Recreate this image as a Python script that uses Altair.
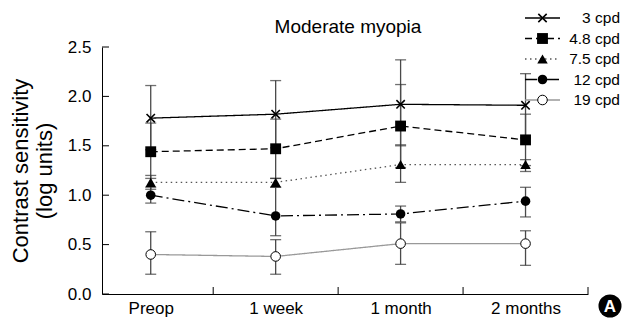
import altair as alt
import pandas as pd

# ---------------- data ----------------
times = ["Preop", "1 week", "1 month", "2 months"]
series = ["3 cpd", "4.8 cpd", "7.5 cpd", "12 cpd", "19 cpd"]

mean_3 = [1.78, 1.82, 1.92, 1.91]
hi_3 = [2.11, 2.16, 2.37, 2.23]
lo_3 = [1.46, 1.48, 1.51, 1.58]

mean_48 = [1.44, 1.47, 1.70, 1.56]
hi_48 = [1.73, 1.77, 2.12, 1.82]
lo_48 = [1.17, 1.17, 1.28, 1.30]

mean_75 = [1.13, 1.13, 1.31, 1.31]
hi_75 = [1.20, 1.17, 1.50, 1.36]
lo_75 = [1.06, 1.08, 1.13, 1.24]

mean_12 = [1.00, 0.79, 0.81, 0.94]
hi_12 = [1.08, 1.08, 0.89, 1.08]
lo_12 = [0.92, 0.59, 0.73, 0.78]

mean_19 = [0.40, 0.38, 0.51, 0.51]
hi_19 = [0.63, 0.55, 0.72, 0.64]
lo_19 = [0.20, 0.20, 0.30, 0.29]

y_ticks = [0.0, 0.5, 1.0, 1.5, 2.0, 2.5]
x_tick_marks = [0.5, 1.5, 2.5, 3.5]

title_text = "Moderate myopia"
y_title = ["Contrast sensitivity", "(log units)"]
badge = "A"

means = [mean_3, mean_48, mean_75, mean_12, mean_19]
his = [hi_3, hi_48, hi_75, hi_12, hi_19]
los = [lo_3, lo_48, lo_75, lo_12, lo_19]

rows = []
for s, m, h, l in zip(series, means, his, los):
    for i in range(len(times)):
        rows.append({"series": s, "t": i, "mean": m[i], "hi": h[i], "lo": l[i]})
df = pd.DataFrame(rows)

# ---------------- styles ----------------
FONT = "Liberation Sans"
styles = {
    "3 cpd": dict(color="black", dash=[1, 0], shape="M-1,-1L1,1M1,-1L-1,1", filled=False,
                  fill="transparent", size=70, sw=1.6),
    "4.8 cpd": dict(color="black", dash=[7, 4], shape="square", filled=True,
                    fill="black", size=118, sw=0),
    "7.5 cpd": dict(color="#555555", dash=[1.5, 3.5], shape="triangle-up", filled=True,
                    fill="black", size=110, sw=0),
    "12 cpd": dict(color="black", dash=[12, 4, 2, 4], shape="circle", filled=True,
                   fill="black", size=92, sw=0),
    "19 cpd": dict(color="#999999", dash=[1, 0], shape="circle", filled=False,
                   fill="white", size=92, sw=1),
}

xscale = alt.Scale(domain=[-0.39, 3.5], nice=False, zero=False)
yscale = alt.Scale(domain=[0, 2.5], nice=False, zero=True)

label_expr = "[" + ",".join("'" + t + "'" for t in times) + "][datum.value]"
xaxis = alt.Axis(values=[0, 1, 2, 3], labelExpr=label_expr, ticks=False, grid=False,
                 domainColor="black", domainWidth=1, labelFontSize=17, labelFont=FONT,
                 labelColor="black", labelPadding=19, labelBaseline="alphabetic", title=None)
yaxis = alt.Axis(values=y_ticks, format=".1f", ticks=False, grid=False,
                 domainColor="black", domainWidth=1, labelFontSize=17, labelFont=FONT,
                 labelColor="black", labelPadding=11,
                 title=y_title, titleFont=FONT, titleFontSize=22, titleFontWeight="normal",
                 titleColor="black", titleAngle=-90, titleX=-82, titleY=123.5,
                 titleAlign="center", titleBaseline="middle", titleLineHeight=24)


def X(f):
    return alt.X(f, type="quantitative", scale=xscale, axis=xaxis)


def Y(f):
    return alt.Y(f, type="quantitative", scale=yscale, axis=yaxis)


base = alt.Chart(df)

layers = []
# error bars
layers.append(base.mark_rule(color="#4a4a4a", strokeWidth=1.3).encode(
    x=X("t"), y=Y("lo"), y2="hi"))
layers.append(base.mark_tick(orient="horizontal", size=11, thickness=1.3, color="#333333").encode(
    x=X("t"), y=Y("hi")))
layers.append(base.mark_tick(orient="horizontal", size=11, thickness=1.3, color="#333333").encode(
    x=X("t"), y=Y("lo")))

# lines
for s in series:
    st = styles[s]
    layers.append(base.transform_filter(alt.datum.series == s).mark_line(
        color=st["color"], strokeDash=st["dash"], strokeWidth=1.3).encode(
        x=X("t"), y=Y("mean")))
# points
for s in series:
    st = styles[s]
    layers.append(base.transform_filter(alt.datum.series == s).mark_point(
        shape=st["shape"], filled=st["filled"], fill=st["fill"], color="black",
        stroke="black", strokeWidth=st["sw"], size=st["size"], opacity=1).encode(
        x=X("t"), y=Y("mean")))

# inward axis ticks
ytick_df = pd.DataFrame({"v": y_ticks})
layers.append(alt.Chart(ytick_df).mark_rule(color="black", strokeWidth=1).encode(
    y=Y("v"), x=alt.value(0), x2=alt.value(7)))
xtick_df = pd.DataFrame({"v": x_tick_marks})
layers.append(alt.Chart(xtick_df).mark_rule(color="black", strokeWidth=1).encode(
    x=X("v"), y=alt.value(240), y2=alt.value(247)))

# title
tdf = pd.DataFrame({"txt": [title_text]})
layers.append(alt.Chart(tdf).mark_text(font=FONT, fontSize=19, color="black",
                                       align="center", baseline="alphabetic").encode(
    text="txt:N", x=alt.value(246), y=alt.value(-14)))

# badge
bdf = pd.DataFrame({"txt": [badge]})
layers.append(alt.Chart(bdf).mark_point(shape="circle", filled=True, color="black",
                                        size=530, opacity=1).encode(
    x=alt.value(508), y=alt.value(259)))
layers.append(alt.Chart(bdf).mark_text(font=FONT, fontSize=17, fontWeight="bold", color="white",
                                       align="center", baseline="middle").encode(
    text="txt:N", x=alt.value(508), y=alt.value(260)))

main = alt.layer(*layers)

# legend
leg_df = pd.DataFrame({"series": series, "row": list(range(len(series)))})
lscale = alt.Scale(domain=[0, 4], range=[-29, 53])
leg_layers = []
for s in series:
    st = styles[s]
    ld = alt.Chart(leg_df).transform_filter(alt.datum.series == s)
    leg_layers.append(ld.mark_rule(color=st["color"], strokeDash=st["dash"], strokeWidth=1.3).encode(
        y=alt.Y("row:Q", scale=lscale, axis=None), x=alt.value(423), x2=alt.value(458)))
    leg_layers.append(ld.mark_point(
        shape=st["shape"], filled=st["filled"], fill=st["fill"], color="black",
        stroke="black", strokeWidth=st["sw"], size=st["size"], opacity=1).encode(
        y=alt.Y("row:Q", scale=lscale, axis=None), x=alt.value(440.5)))
leg_layers.append(alt.Chart(leg_df).mark_text(font=FONT, fontSize=15.5, color="black",
                                             align="right", baseline="middle").encode(
    y=alt.Y("row:Q", scale=lscale, axis=None), x=alt.value(518), text="series:N"))
legend = alt.layer(*leg_layers)

chart = alt.layer(main, legend).resolve_scale(y="independent").properties(
    width=486, height=247,
    padding={"left": 94, "top": 39, "right": 34, "bottom": 25},
    autosize=alt.AutoSizeParams(type="none"),
    background="white",
).configure_view(stroke=None)

chart.save("out.html", embed_options={"renderer": "svg", "actions": False})
